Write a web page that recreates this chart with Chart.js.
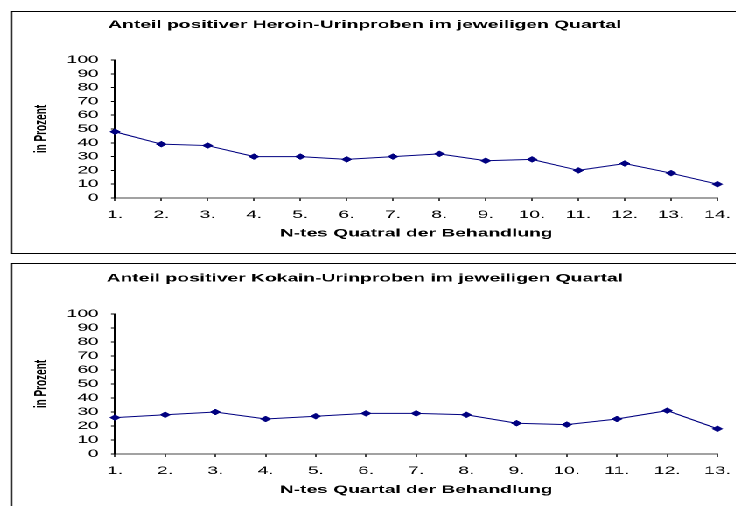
<!DOCTYPE html>
<html>
<head>
<meta charset="utf-8">
<script src="https://cdn.jsdelivr.net/npm/chart.js@4.4.1/dist/chart.umd.min.js"></script>
<style>
  html, body { margin: 0; padding: 0; background: #fff; overflow: hidden; width: 736px; height: 506px; }
  /* the reference picture is stretched sideways, so the whole page is drawn narrow and widened */
  #stretch { position: absolute; left: 0; top: 0; width: 420.57px; height: 506px;
             transform: scaleX(1.75); transform-origin: 0 0; }
  .box { position: absolute; left: 5.714px; width: 423px; border: 1px solid #000;
         box-sizing: border-box; background: #fff; }
  #box1 { top: 11px; height: 243px; }
  #box2 { top: 263px; height: 260px; }
  .inner { position: relative; width: 100%; height: 100%; }
</style>
</head>
<body>
<div id="stretch">
  <div class="box" id="box1"><div class="inner"><canvas id="heroinChart"></canvas></div></div>
  <div class="box" id="box2"><div class="inner"><canvas id="kokainChart"></canvas></div></div>
</div>
<script>
const quartaleHeroin = ["1.", "2.", "3.", "4.", "5.", "6.", "7.", "8.", "9.", "10.", "11.", "12.", "13.", "14."];
const heroinWerte = [48, 39, 38, 30, 30, 28, 30, 32, 27, 28, 20, 25, 18, 10];

const quartaleKokain = ["1.", "2.", "3.", "4.", "5.", "6.", "7.", "8.", "9.", "10.", "11.", "12.", "13."];
const kokainWerte = [26, 28, 30, 25, 27, 29, 29, 28, 22, 21, 25, 31, 18];

const titelHeroin = "Anteil positiver Heroin-Urinproben im jeweiligen Quartal";
const titelKokain = "Anteil positiver Kokain-Urinproben im jeweiligen Quartal";
const xTitelHeroin = "N-tes Quatral der Behandlung";
const xTitelKokain = "N-tes Quartal der Behandlung";
const yTitel = "in Prozent";

const fontFamily = "'Liberation Sans', Arial, Helvetica, sans-serif";
const lineColor = "#000080";

function makeChart(canvasId, labels, values, titleText, xTitleText, lay) {
  const ctx = document.getElementById(canvasId).getContext("2d");
  return new Chart(ctx, {
    type: "line",
    data: {
      labels: labels,
      datasets: [{
        data: values,
        borderColor: lineColor,
        backgroundColor: lineColor,
        borderWidth: 1,
        tension: 0,
        pointStyle: "rectRot",
        pointRadius: 3,
        pointBorderWidth: 0.5,
        pointBorderColor: lineColor,
        pointBackgroundColor: lineColor
      }]
    },
    options: {
      responsive: true,
      maintainAspectRatio: false,
      animation: false,
      devicePixelRatio: 2,
      layout: { padding: { left: 0, right: 18, top: 0, bottom: 0 } },
      plugins: {
        legend: { display: false },
        tooltip: { enabled: false },
        title: {
          display: true,
          text: titleText,
          color: "#000",
          font: { family: fontFamily, size: 11, weight: "bold" },
          padding: { top: lay.titleTop, bottom: lay.titleBottom }
        }
      },
      scales: {
        x: {
          offset: false,
          grid: { display: true, drawOnChartArea: false, drawTicks: true, tickLength: 3, tickColor: "#444" },
          border: { display: true, color: "#444", width: 1 },
          ticks: { color: "#000", padding: 7.4, maxRotation: 0, autoSkip: false,
                   font: { family: fontFamily, size: 11 } },
          title: { display: true, text: xTitleText, color: "#000",
                   font: { family: fontFamily, size: 11, weight: "bold" },
                   padding: { top: 0, bottom: lay.xTitleBottom } },
          afterFit: scale => { scale.height = lay.xHeight; }
        },
        y: {
          min: 0,
          max: 100,
          grid: { display: true, drawOnChartArea: false, drawTicks: true, tickLength: 2.3, tickColor: "#000" },
          border: { display: true, color: "#000", width: 1 },
          ticks: { stepSize: 10, autoSkip: false, color: "#000", padding: 7,
                   font: { family: fontFamily, size: 11 } },
          title: { display: true, text: yTitel, color: "#000",
                   font: { family: fontFamily, size: 10, weight: "bold" },
                   padding: { top: 10.7, bottom: 0 } },
          afterFit: scale => { scale.width = 58.7; }
        }
      }
    }
  });
}

makeChart("heroinChart", quartaleHeroin, heroinWerte, titelHeroin, xTitelHeroin,
  { titleTop: 6.4, titleBottom: 28.4, xHeight: 55, xTitleBottom: 12.9 });
makeChart("kokainChart", quartaleKokain, kokainWerte, titelKokain, xTitelKokain,
  { titleTop: 7.7, titleBottom: 29.1, xHeight: 68, xTitleBottom: 25.4 });
</script>
</body>
</html>
